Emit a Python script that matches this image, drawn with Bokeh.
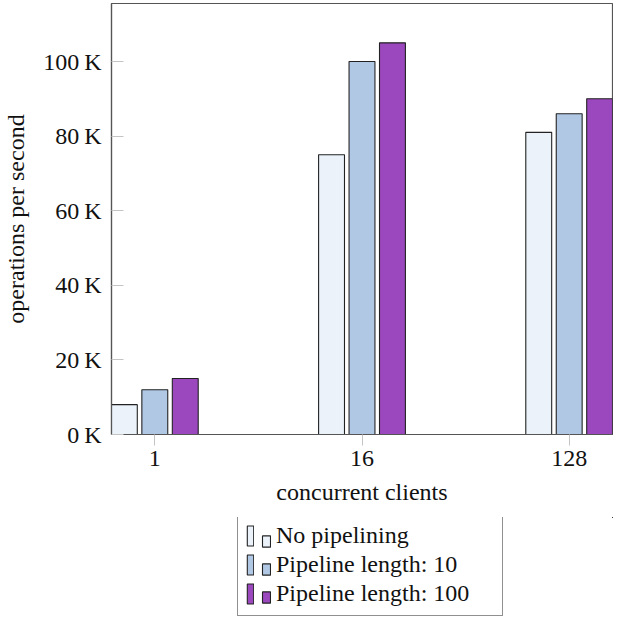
from bokeh.plotting import figure
from bokeh.models import Range1d, FixedTicker, Legend, LegendItem, ColumnDataSource
from bokeh.layouts import column
from bokeh.embed import file_html
from bokeh.resources import INLINE

# ---- data ----
clients = ["1", "16", "128"]
no_pipelining = [8000, 75000, 81000]
pipeline_10 = [12000, 100000, 86000]
pipeline_100 = [15000, 105000, 90000]
series_names = ["No pipelining", "Pipeline length: 10", "Pipeline length: 100"]
y_ticks = [0, 20000, 40000, 60000, 80000, 100000]
y_tick_labels = ["0\u2009K", "20\u2009K", "40\u2009K", "60\u2009K", "80\u2009K", "100\u2009K"]

# ---- style ----
colors = ["#ebf2fa", "#b1c8e4", "#9b47bd"]
offsets = [-0.147, 0.0, 0.147]
bar_w = 0.125
FONT = "Liberation Serif"
FS = "24px"
EDGE = "#222222"

positions = list(range(len(clients)))
series = [no_pipelining, pipeline_10, pipeline_100]

p = figure(width=613, height=517, output_backend="svg", toolbar_location=None,
           x_range=Range1d(-0.209, len(clients) - 1 + 0.209),
           y_range=Range1d(0, 115550),
           min_border_left=103, min_border_right=1, min_border_top=3,
           min_border_bottom=83)
p.xgrid.visible = False
p.ygrid.visible = False
p.outline_line_color = "#555555"
p.outline_line_width = 1.2

for vals, off, col in zip(series, offsets, colors):
    src = ColumnDataSource(dict(x=[i + off for i in positions], top=vals))
    p.vbar(x="x", top="top", width=bar_w, bottom=0, source=src,
           fill_color=col, line_color=EDGE, line_width=1.1)

# y axis
p.yaxis.ticker = FixedTicker(ticks=y_ticks)
p.yaxis.major_label_overrides = {t: l for t, l in zip(y_ticks, y_tick_labels)}
p.yaxis.minor_tick_line_color = None
p.yaxis.major_tick_in = 12
p.yaxis.major_tick_out = 0
p.yaxis.major_tick_line_color = "#c4c4c4"
p.yaxis.major_label_standoff = 10
p.yaxis.axis_label = "operations per second"
p.yaxis.axis_label_standoff = 11

# x axis
p.xaxis.ticker = FixedTicker(ticks=positions)
p.xaxis.major_label_overrides = {i: c for i, c in zip(positions, clients)}
p.xaxis.minor_tick_line_color = None
p.xaxis.major_tick_in = 0
p.xaxis.major_tick_out = 11
p.xaxis.major_tick_line_color = "#c4c4c4"
p.xaxis.major_label_standoff = 5
p.xaxis.axis_label = "concurrent clients"
p.xaxis.axis_label_standoff = 10

for ax in (p.xaxis[0], p.yaxis[0]):
    ax.axis_line_color = "#555555"
    ax.axis_line_width = 1.2
    ax.major_label_text_font = FONT
    ax.major_label_text_font_size = FS
    ax.major_label_text_color = "#111111"
    ax.axis_label_text_font = FONT
    ax.axis_label_text_font_size = FS
    ax.axis_label_text_font_style = "normal"
    ax.axis_label_text_color = "#111111"

# ---- legend panel (separate small figure below the chart; its frame is
#      aligned with the chart's frame by the column layout) ----
lg = figure(width=613, height=100, output_backend="svg", toolbar_location=None,
            x_axis_location=None, y_axis_location=None,
            min_border_left=103, min_border_right=1, min_border_top=0, min_border_bottom=0,
            outline_line_color=None,
            x_range=Range1d(-11, -10), y_range=Range1d(2, 3))  # carriers are out of view
lg.xgrid.visible = False
lg.ygrid.visible = False

icons = []
for vals, off, col in zip(series, offsets, colors):
    src = ColumnDataSource(dict(x=[i + off for i in positions], top=vals))
    # zero-size carriers: they only supply the legend icons' styling
    icons.append(lg.vbar(x="x", top="top", bottom="top", width=0, source=src,
                         fill_color=col, line_color=EDGE, line_width=1.1))

PAD = 8
GA, GB = 25, 14
VA = 1
# tall thin bar + labels, with box
leg_a = Legend(items=[LegendItem(label=n, renderers=[r]) for n, r in zip(series_names, icons)],
               location=(126, VA), margin=0, padding=PAD, spacing=2,
               glyph_width=8, glyph_height=GA, label_height=26, label_width=218,
               label_standoff=22,
               label_text_font=FONT, label_text_font_size=FS, label_text_color="#111111",
               border_line_color="#222222", border_line_width=1,
               background_fill_color="white", background_fill_alpha=1.0)
lg.add_layout(leg_a, "center")

# second, shorter bar of each legend icon (pgfplots bar-legend style)
leg_b = Legend(items=[LegendItem(label=" ", renderers=[r]) for r in icons],
               location=(150, VA + PAD - 0.9 * (GA - GB) + 8), margin=0, padding=0, spacing=2,
               glyph_width=10, glyph_height=GB, label_height=26, label_standoff=0,
               label_text_font=FONT, label_text_font_size=FS,
               border_line_alpha=0, background_fill_alpha=0)
lg.add_layout(leg_b, "center")

layout = column(p, lg, spacing=0)
open("out.html", "w").write(file_html(layout, INLINE))
